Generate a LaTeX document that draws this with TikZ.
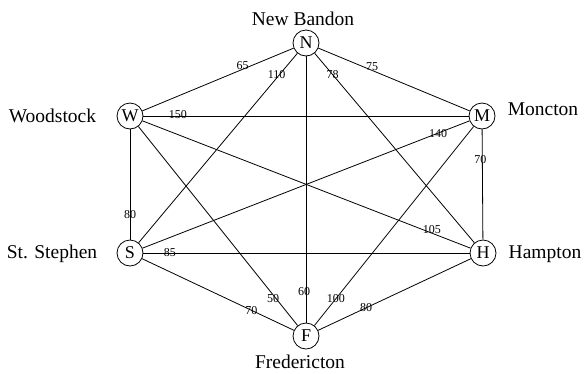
\documentclass[tikz,border=0pt]{standalone}
\usepackage{fontspec}
\setmainfont{Liberation Serif}
\usetikzlibrary{calc}
\tikzset{
  city/.style={circle,draw,line width=0.8pt,minimum size=26pt,inner sep=0pt,font=\fontsize{18}{18}\selectfont},
  town/.style={anchor=base,inner sep=0pt,font=\fontsize{19.5}{20}\selectfont},
  lab/.style={inner sep=0pt,font=\fontsize{12}{12}\selectfont},
  road/.style={line width=0.8pt}
}
\begin{document}
\begin{tikzpicture}[x=1pt,y=-1pt]
\useasboundingbox (0,0) rectangle (585,373);
\node[city] (N) at (306,43) {N};
\node[city] (W) at (130,116) {W};
\node[city] (M) at (482,116) {M};
\node[city] (S) at (130,253) {S};
\node[city] (H) at (483,253) {H};
\node[city] (F) at (306,336) {F};
\node[town] (tN) at (303,25) {New Bandon};
\node[town] (tW) at (52.5,122) {Woodstock};
\node[town] (tS) at (52,258) {St. Stephen};
\node[town] (tM) at (543,115) {Moncton};
\node[town] (tH) at (545,258) {Hampton};
\node[town] (tF) at (300,368) {Fredericton};
\draw[road] (N) -- (W);
\draw[road] (N) -- (M);
\draw[road] (N) -- (S);
\draw[road] (N) -- (H);
\draw[road] (N) -- (F);
\draw[road] (W) -- (M);
\draw[road] (W) -- (S);
\draw[road] (W) -- (H);
\draw[road] (W) -- (F);
\draw[road] (S) -- (M);
\draw[road] (S) -- (H);
\draw[road] (S) -- (F);
\draw[road] (M) -- (H);
\draw[road] (M) -- (F);
\draw[road] (H) -- (F);
\node[lab,yshift=4pt] (l1) at ($(N)!0.36!(W)$) {65};
\node[lab,yshift=4pt] (l2) at ($(N)!0.375!(M)$) {75};
\node[lab,xshift=-3pt] (l3) at ($(N)!0.15!(S)$) {110};
\node[lab] (l4) at ($(N)!0.15!(H)$) {78};
\node[lab,yshift=1pt] (l5) at ($(W)!0.136!(M)$) {150};
\node[lab] (l6) at ($(W)!0.72!(S)$) {80};
\node[lab,yshift=4pt] (l7) at ($(W)!0.855!(H)$) {105};
\node[lab,xshift=-3pt] (l8) at ($(W)!0.83!(F)$) {50};
\node[lab] (l9) at ($(S)!0.875!(M)$) {140};
\node[lab] (l10) at ($(S)!0.113!(H)$) {85};
\node[lab] (l11) at ($(S)!0.69!(F)$) {70};
\node[lab,xshift=-2pt] (l12) at ($(N)!0.85!(F)$) {60};
\node[lab] (l13) at ($(M)!0.83!(F)$) {100};
\node[lab] (l14) at ($(H)!0.66!(F)$) {80};
\node[lab,xshift=-2pt] (l15) at ($(M)!0.32!(H)$) {70};
\end{tikzpicture}
\end{document}
